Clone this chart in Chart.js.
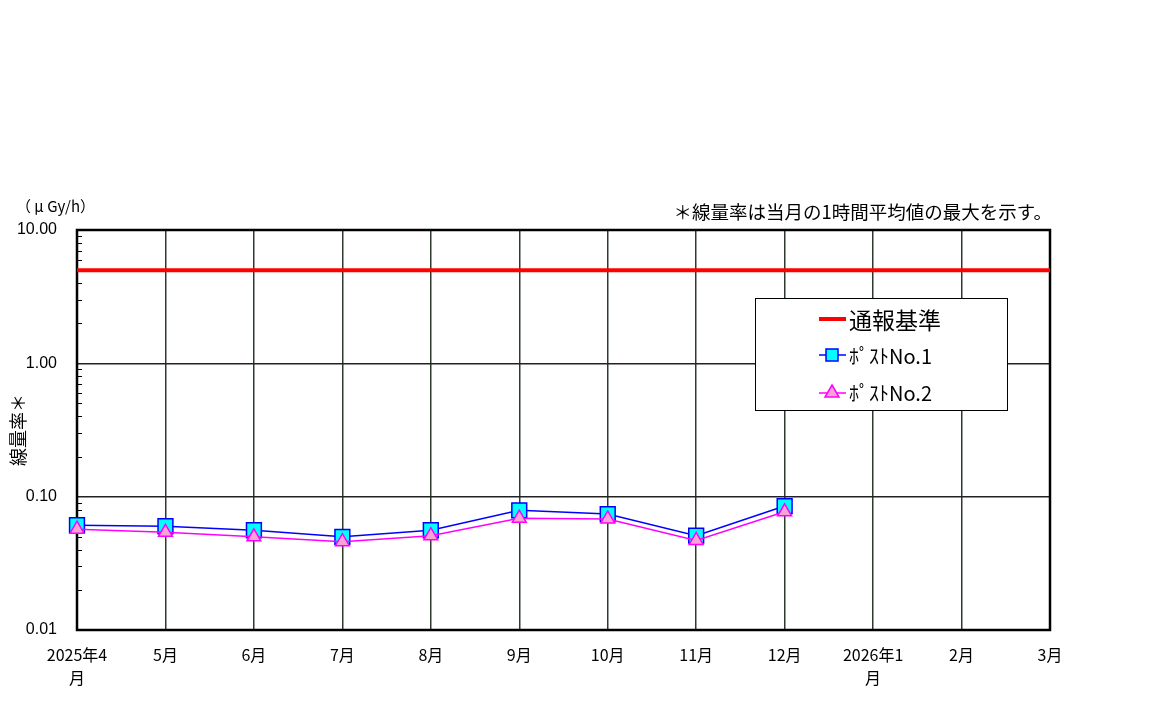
<!DOCTYPE html>
<html>
<head>
<meta charset="utf-8">
<script src="https://cdn.jsdelivr.net/npm/chart.js@4/dist/chart.umd.min.js"></script>
<style>
html, body { margin: 0; background: #fff; }
#wrap { width: 1152px; height: 707px; position: relative; }
</style>
</head>
<body>
<div id="wrap"><canvas id="rateChart"></canvas></div>
<script>
// month labels (the two year labels wrap onto a second line like the original)
const months = [['2025年4', '月'], '5月', '6月', '7月', '8月', '9月', '10月', '11月', '12月', ['2026年1', '月'], '2月', '3月'];
// max 1-hour average dose rate, μGy/h
const post1 = [0.061, 0.060, 0.056, 0.050, 0.056, 0.079, 0.074, 0.051, 0.085, null, null, null];
const post2 = [0.057, 0.054, 0.050, 0.046, 0.051, 0.069, 0.068, 0.047, 0.077, null, null, null];
const reportLevel = [5, 5, 5, 5, 5, 5, 5, 5, 5, 5, 5, 5];
const yTicks = [0.01, 0.1, 1, 10];

const jpFont = '"Noto Sans CJK JP", "Noto Sans", sans-serif';

// frame, minor ticks, unit text, note and legend box
const decor = {
  id: 'decor',
  beforeDatasetsDraw(chart) {
    const { ctx, chartArea: a } = chart;
    const y = chart.scales.y;
    ctx.save();
    ctx.strokeStyle = '#000';
    ctx.lineWidth = 1;
    for (let d = 0.01; d < 10; d *= 10) {
      for (let m = 2; m <= 9; m++) {
        const py = Math.round(y.getPixelForValue(d * m)) + 0.5;
        ctx.beginPath();
        ctx.moveTo(a.left, py);
        ctx.lineTo(a.left + 5, py);
        ctx.stroke();
      }
    }
    ctx.lineWidth = 2.5;
    ctx.strokeRect(a.left, a.top, a.right - a.left, a.bottom - a.top);
    ctx.restore();
  },
  afterDraw(chart) {
    const { ctx } = chart;
    ctx.save();
    ctx.fillStyle = '#000';
    ctx.textBaseline = 'middle';
    ctx.font = '15px ' + jpFont;
    ctx.textAlign = 'left';
    ctx.fillText('（ μ Gy/h）', 16, 206);
    ctx.font = '18.5px ' + jpFont;
    ctx.textAlign = 'right';
    ctx.fillText('＊線量率は当月の1時間平均値の最大を示す。', 1052, 212);

    // legend
    const bx = 755, by = 298, bw = 252, bh = 112;
    ctx.fillStyle = '#fff';
    ctx.fillRect(bx, by, bw, bh);
    ctx.strokeStyle = '#000';
    ctx.lineWidth = 1;
    ctx.strokeRect(bx + 0.5, by + 0.5, bw, bh);

    ctx.textAlign = 'left';
    ctx.fillStyle = '#000';
    // row 1
    ctx.strokeStyle = '#ff0000';
    ctx.lineWidth = 4;
    ctx.beginPath(); ctx.moveTo(819, 319); ctx.lineTo(846, 319); ctx.stroke();
    ctx.font = '23px ' + jpFont;
    ctx.fillText('通報基準', 849, 320);
    // row 2
    ctx.strokeStyle = '#0000ff';
    ctx.lineWidth = 1.5;
    ctx.beginPath(); ctx.moveTo(819, 355); ctx.lineTo(846, 355); ctx.stroke();
    ctx.fillStyle = '#00ffff';
    ctx.fillRect(826, 349, 12, 12);
    ctx.strokeRect(826, 349, 12, 12);
    ctx.fillStyle = '#000';
    ctx.font = '20px ' + jpFont;
    ctx.fillText('ﾎﾟｽﾄNo.1', 849, 356);
    // row 3
    ctx.strokeStyle = '#ff00ff';
    ctx.beginPath(); ctx.moveTo(819, 393); ctx.lineTo(846, 393); ctx.stroke();
    ctx.fillStyle = '#f7a3d3';
    ctx.beginPath(); ctx.moveTo(832, 385); ctx.lineTo(839, 397); ctx.lineTo(825, 397); ctx.closePath();
    ctx.fill(); ctx.stroke();
    ctx.fillStyle = '#000';
    ctx.fillText('ﾎﾟｽﾄNo.2', 849, 393);
    ctx.restore();
  }
};

new Chart(document.getElementById('rateChart'), {
  type: 'line',
  data: {
    labels: months,
    datasets: [{
      label: '通報基準',
      data: reportLevel,
      borderColor: '#ff0000',
      borderWidth: 4,
      pointRadius: 0,
      order: 2
    }, {
      label: 'ﾎﾟｽﾄNo.1',
      data: post1,
      borderColor: '#0000ff',
      borderWidth: 1.5,
      pointStyle: 'rect',
      pointRadius: 10.5,
      pointBackgroundColor: '#00ffff',
      pointBorderColor: '#0000ff',
      pointBorderWidth: 1.5,
      order: 1
    }, {
      label: 'ﾎﾟｽﾄNo.2',
      data: post2,
      borderColor: '#ff00ff',
      borderWidth: 1.5,
      pointStyle: 'triangle',
      pointRadius: 8,
      pointBackgroundColor: '#f7a3d3',
      pointBorderColor: '#ff00ff',
      pointBorderWidth: 1.5,
      order: 0
    }]
  },
  options: {
    responsive: true,
    maintainAspectRatio: false,
    animation: false,
    layout: { padding: { top: 230, right: 102, left: 0, bottom: 0 } },
    plugins: {
      legend: { display: false },
      tooltip: { enabled: false }
    },
    scales: {
      x: {
        offset: false,
        afterFit: s => { s.height = 77; },
        grid: { color: '#2e3a2e', lineWidth: 1.5, drawTicks: false },
        border: { display: false },
        ticks: {
          color: '#000',
          padding: 14,
          maxRotation: 0,
          autoSkip: false,
          font: { family: jpFont, size: 16, lineHeight: 1.4 }
        }
      },
      y: {
        type: 'logarithmic',
        min: 0.01,
        max: 10,
        afterFit: s => { s.width = 77; },
        afterBuildTicks: s => { s.ticks = yTicks.map(v => ({ value: v })); },
        grid: { color: '#222', lineWidth: 1.5, drawTicks: false },
        border: { display: false },
        ticks: {
          color: '#000',
          padding: 20,
          autoSkip: false,
          font: { family: '"Liberation Sans", Arial, sans-serif', size: 16 },
          callback: v => Number(v).toFixed(2)
        },
        title: {
          display: true,
          text: '線量率＊',
          color: '#000',
          padding: { top: 7, bottom: 0 },
          font: { family: jpFont, size: 18 }
        }
      }
    }
  },
  plugins: [decor]
});
</script>
</body>
</html>
